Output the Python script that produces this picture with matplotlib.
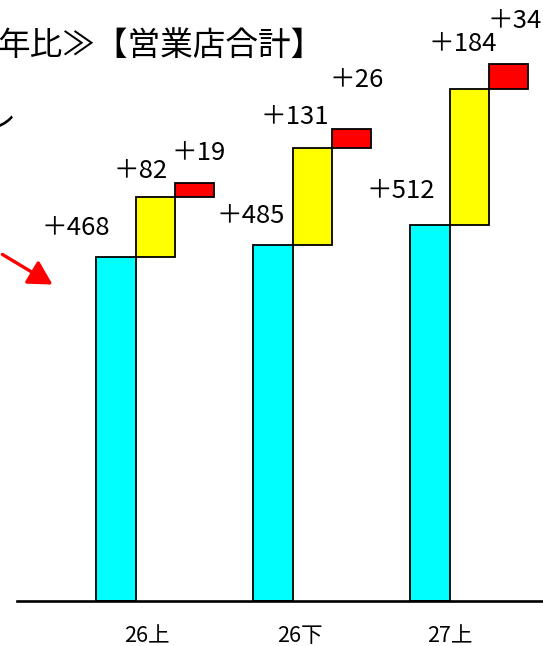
import matplotlib
matplotlib.use("Agg")
import matplotlib.pyplot as plt

plt.rcParams['font.family'] = ['Noto Sans CJK JP', 'DejaVu Sans']

# ---- data ----
periods = ['26上', '26下', '27上']
base_vals = [468, 485, 512]      # cyan
inc1_vals = [82, 131, 184]       # yellow
inc2_vals = [19, 26, 34]         # red
title_text = '年比≫【営業店合計】'
side_text = 'レ'

# ---- layout ----
W, H, DPI = 543, 646, 100
fig = plt.figure(figsize=(W / DPI, H / DPI), dpi=DPI)
base_px = 601
ax = fig.add_axes([0, (H - base_px) / H, 1, base_px / H])
px_unit = 39.25           # bar width in pixels
x0_px = 116               # center of first cyan bar (pixels)
ax.set_xlim(-x0_px / px_unit, (W - x0_px) / px_unit)
ax.set_ylim(0, base_px / 0.735)

group_step = 4
xs_c = [group_step * i for i in range(len(periods))]
xs_y = [x + 1 for x in xs_c]
xs_r = [x + 2 for x in xs_c]
tops1 = [b + a for b, a in zip(base_vals, inc1_vals)]

ec = 'black'
lw = 1.3
ax.bar(xs_c, base_vals, width=1, color='#00FFFF', edgecolor=ec, linewidth=lw, zorder=2)
ax.bar(xs_y, inc1_vals, bottom=base_vals, width=1, color='#FFFF00', edgecolor=ec, linewidth=lw, zorder=2)
ax.bar(xs_r, inc2_vals, bottom=tops1, width=1, color='#FF0000', edgecolor=ec, linewidth=lw, zorder=2)

# data labels (offsets in pixels relative to bar top center)
lab_fs = 18.5
off_c = [(-40, 29), (-22, 29), (-29, 34)]
off_y = [(-15, 26), (-18, 31), (-7, 45)]
off_r = [(4, 30), (5, 49), (6, 43)]
for i in range(len(periods)):
    ax.annotate('＋%d' % base_vals[i], (xs_c[i], base_vals[i]), xytext=off_c[i],
                textcoords='offset pixels', ha='center', va='center', fontsize=lab_fs)
    ax.annotate('＋%d' % inc1_vals[i], (xs_y[i], tops1[i]), xytext=off_y[i],
                textcoords='offset pixels', ha='center', va='center', fontsize=lab_fs)
    ax.annotate('＋%d' % inc2_vals[i], (xs_r[i], tops1[i] + inc2_vals[i]), xytext=off_r[i],
                textcoords='offset pixels', ha='center', va='center', fontsize=lab_fs)

# axes styling
for s in ['top', 'left', 'right']:
    ax.spines[s].set_visible(False)
ax.spines['bottom'].set_linewidth(1.9)
ax.spines['bottom'].set_bounds(-x0_px / px_unit + 17 / px_unit, (W - x0_px) / px_unit)
ax.spines['bottom'].set_zorder(3)
ax.set_yticks([])
ax.set_xticks([0.79, 4.69, 8.51])
ax.set_xticklabels(periods, fontsize=15.5)
ax.tick_params(axis='x', length=0, pad=17.5)

# title and side text (cropped at left edge, as in the reference)
fig.text(-3 / W, 1 - 46 / H, title_text, fontsize=23.5, ha='left', va='center')
fig.text(-16 / W, 1 - 120 / H, side_text, fontsize=23, ha='left', va='center')

# red arrow
fig.add_artist(matplotlib.patches.FancyArrowPatch(
    (0 / W, 1 - 253 / H), (55 / W, 1 - 286 / H), transform=fig.transFigure,
    arrowstyle='-|>,head_length=9,head_width=5', mutation_scale=1.6,
    color='#FF0000', linewidth=2.4))

fig.savefig('out.png', dpi=DPI)
